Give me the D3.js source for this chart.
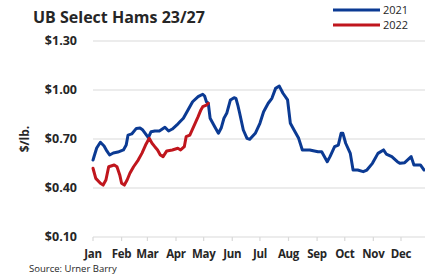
<!DOCTYPE html>
<html><head><meta charset="utf-8">
<script src="https://cdn.jsdelivr.net/npm/d3@7"></script>
<style>html,body{margin:0;padding:0;background:#fff;overflow:hidden}svg{display:block}</style>
</head><body>
<script>
// Data (day of year, $/lb.)
const days2021 = [0,1,4,8,12,15,18,22,27,33,36,38,42,47,51,54,60,63,67,72,78,82,86,91,94,98,103,108,114,119,121,123,125,127,132,136,139,142,145,149,153,155,157,159,163,167,170,176,181,185,190,194,198,202,206,211,214,218,223,227,231,235,244,248,254,257,262,266,269,271,274,279,282,287,293,297,303,309,315,318,324,330,333,338,345,348,355,359];
const values2021 = [0.571,0.590,0.645,0.680,0.657,0.627,0.602,0.614,0.620,0.633,0.663,0.724,0.731,0.765,0.767,0.755,0.708,0.745,0.749,0.749,0.772,0.749,0.761,0.786,0.804,0.827,0.878,0.928,0.959,0.974,0.963,0.928,0.919,0.827,0.775,0.735,0.767,0.827,0.857,0.939,0.953,0.949,0.908,0.859,0.755,0.704,0.698,0.735,0.796,0.867,0.919,0.949,1.010,1.024,0.980,0.939,0.796,0.755,0.704,0.633,0.633,0.633,0.622,0.622,0.561,0.592,0.653,0.663,0.735,0.735,0.674,0.612,0.510,0.510,0.500,0.510,0.551,0.612,0.633,0.608,0.592,0.561,0.551,0.555,0.592,0.541,0.541,0.510];
const days2022 = [0,3,8,11,14,17,23,26,29,31,34,37,40,44,49,53,57,61,64,67,70,73,76,80,86,92,95,99,101,105,110,114,117,119,123,125];
const values2022 = [0.521,0.459,0.429,0.418,0.449,0.530,0.541,0.530,0.480,0.429,0.418,0.449,0.490,0.530,0.571,0.612,0.663,0.704,0.674,0.653,0.633,0.602,0.592,0.627,0.633,0.643,0.633,0.653,0.714,0.724,0.786,0.837,0.878,0.898,0.908,0.919];
const monthLabels = ["Jan","Feb","Mar","Apr","May","Jun","Jul","Aug","Sep","Oct","Nov","Dec"];
const monthStarts = [0,31,59,90,120,151,181,212,243,273,304,334];
const yTicks = [0.10,0.40,0.70,1.00,1.30];
const seriesNames = ["2021","2022"];
const seriesColors = ["#0b3a93","#c0161d"];

const W = 425, H = 276;
const svg = d3.select("body").append("svg").attr("width", W).attr("height", H);
const x = d3.scaleLinear().domain([0, 365]).range([93, 429.6]);
const y = d3.scaleLinear().domain([0.10, 1.30]).range([237, 41]);
const txt = "#262626";
const font = "'Open Sans', sans-serif";

// gridlines
svg.append("g").selectAll("line").data(yTicks).join("line")
  .attr("x1", 93).attr("x2", W).attr("y1", d => y(d)).attr("y2", d => y(d))
  .attr("stroke", "#d9d9d9").attr("stroke-width", 1.2);

// y labels
svg.append("g").selectAll("text").data(yTicks).join("text")
  .attr("x", 77).attr("y", d => y(d)).attr("dy", "0.35em")
  .attr("text-anchor", "end").attr("font-family", font).attr("font-weight", 700)
  .attr("font-size", 12.5).attr("fill", txt).text(d => "$" + d.toFixed(2));

// x ticks
svg.append("g").selectAll("line").data(monthStarts).join("line")
  .attr("x1", d => x(d)).attr("x2", d => x(d)).attr("y1", 237).attr("y2", 241)
  .attr("stroke", "#d9d9d9").attr("stroke-width", 1.2);
svg.append("g").selectAll("text").data(monthLabels).join("text")
  .attr("x", (d, i) => x(monthStarts[i])).attr("y", 258)
  .attr("text-anchor", "middle").attr("font-family", font).attr("font-weight", 700)
  .attr("font-size", 11.5).attr("letter-spacing", -0.3).attr("fill", txt).text(d => d);

// lines
const line = d3.line().x(d => x(d[0])).y(d => y(d[1]));
const s2021 = days2021.map((d, i) => [d, values2021[i]]);
const s2022 = days2022.map((d, i) => [d, values2022[i]]);
[s2021, s2022].forEach((s, i) => {
  svg.append("path").datum(s).attr("d", line).attr("fill", "none")
    .attr("stroke", seriesColors[i]).attr("stroke-width", 3)
    .attr("stroke-linejoin", "round").attr("stroke-linecap", "round");
});

// title
svg.append("text").attr("x", 33).attr("y", 23).attr("font-family", font)
  .attr("font-weight", 700).attr("font-size", 16).attr("fill", txt).text("UB Select Hams 23/27");

// y axis title
svg.append("text").attr("transform", "translate(29,139) rotate(-90)")
  .attr("text-anchor", "middle").attr("font-family", font).attr("font-weight", 700)
  .attr("font-size", 12).attr("fill", txt).text("$/lb.");

// legend
const lg = svg.append("g");
seriesNames.forEach((n, i) => {
  lg.append("line").attr("x1", 333).attr("x2", 380).attr("y1", 10 + i * 15).attr("y2", 10 + i * 15)
    .attr("stroke", seriesColors[i]).attr("stroke-width", 3);
  lg.append("text").attr("x", 383).attr("y", 10 + i * 15).attr("dy", "0.35em")
    .attr("font-family", font).attr("font-size", 11).attr("fill", txt).text(n);
});

// source
svg.append("text").attr("x", 29).attr("y", 272).attr("font-family", font)
  .attr("font-size", 9.5).attr("fill", txt).text("Source: Urner Barry");
</script>
</body></html>
